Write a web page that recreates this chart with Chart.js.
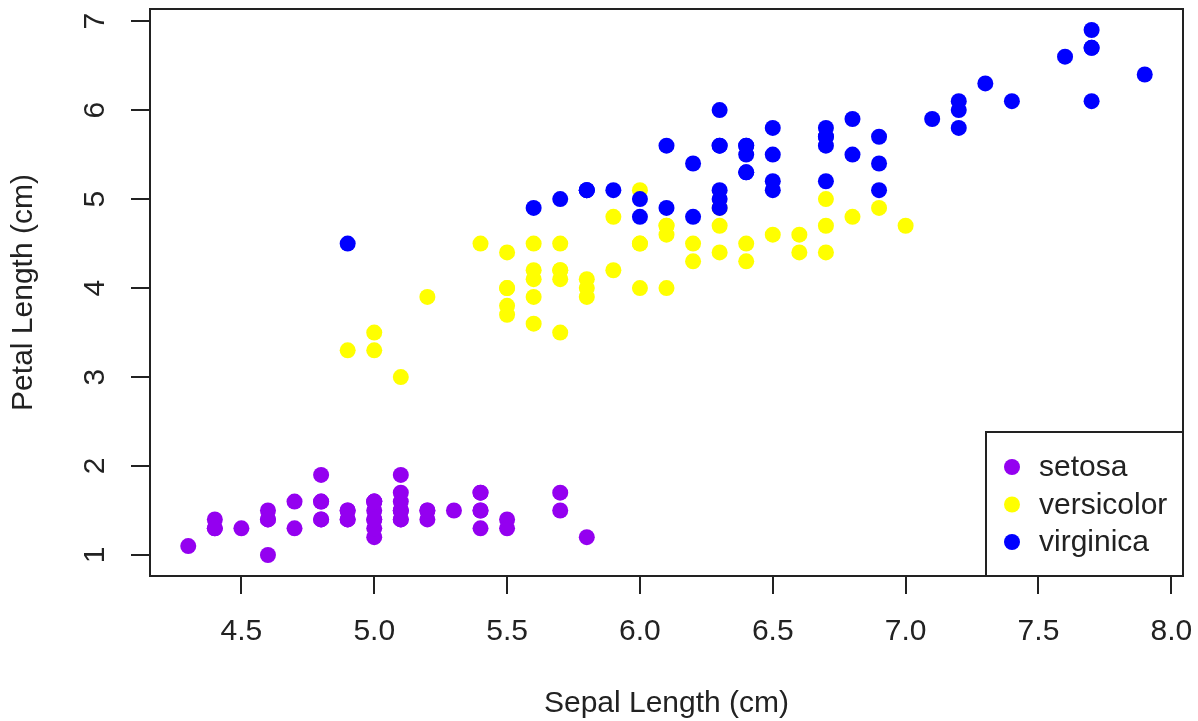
<!DOCTYPE html>
<html>
<head>
<meta charset="utf-8">
<script src="https://cdn.jsdelivr.net/npm/chart.js@4/dist/chart.umd.min.js"></script>
<style>
  html, body { margin: 0; padding: 0; background: #fff; }
  #wrap { width: 1198px; height: 721px; }
</style>
</head>
<body>
<div id="wrap"><canvas id="c" width="1198" height="721"></canvas></div>
<script>
// Iris measurements: sepal length vs petal length (cm), by species
const species = ['setosa', 'versicolor', 'virginica'];
const speciesColors = ['#9400F0', '#FFFF00', '#0000FF'];

const setosaSepal = [5.1,4.9,4.7,4.6,5.0,5.4,4.6,5.0,4.4,4.9,5.4,4.8,4.8,4.3,5.8,5.7,5.4,5.1,5.7,5.1,5.4,5.1,4.6,5.1,4.8,5.0,5.0,5.2,5.2,4.7,4.8,5.4,5.2,5.5,4.9,5.0,5.5,4.9,4.4,5.1,5.0,4.5,4.4,5.0,5.1,4.8,5.1,4.6,5.3,5.0];
const setosaPetal = [1.4,1.4,1.3,1.5,1.4,1.7,1.4,1.5,1.4,1.5,1.5,1.6,1.4,1.1,1.2,1.5,1.3,1.4,1.7,1.5,1.7,1.5,1.0,1.7,1.9,1.6,1.6,1.5,1.4,1.6,1.6,1.5,1.5,1.4,1.5,1.2,1.3,1.4,1.3,1.5,1.3,1.3,1.3,1.6,1.9,1.4,1.6,1.4,1.5,1.4];

const versicolorSepal = [7.0,6.4,6.9,5.5,6.5,5.7,6.3,4.9,6.6,5.2,5.0,5.9,6.0,6.1,5.6,6.7,5.6,5.8,6.2,5.6,5.9,6.1,6.3,6.1,6.4,6.6,6.8,6.7,6.0,5.7,5.5,5.5,5.8,6.0,5.4,6.0,6.7,6.3,5.6,5.5,5.5,6.1,5.8,5.0,5.6,5.7,5.7,6.2,5.1,5.7];
const versicolorPetal = [4.7,4.5,4.9,4.0,4.6,4.5,4.7,3.3,4.6,3.9,3.5,4.2,4.0,4.7,3.6,4.4,4.5,4.1,4.5,3.9,4.8,4.0,4.9,4.7,4.3,4.4,4.8,5.0,4.5,3.5,3.8,3.7,3.9,5.1,4.5,4.5,4.7,4.4,4.1,4.0,4.4,4.6,4.0,3.3,4.2,4.2,4.2,4.3,3.0,4.1];

const virginicaSepal = [6.3,5.8,7.1,6.3,6.5,7.6,4.9,7.3,6.7,7.2,6.5,6.4,6.8,5.7,5.8,6.4,6.5,7.7,7.7,6.0,6.9,5.6,7.7,6.3,6.7,7.2,6.2,6.1,6.4,7.2,7.4,7.9,6.4,6.3,6.1,7.7,6.3,6.4,6.0,6.9,6.7,6.9,5.8,6.8,6.7,6.7,6.3,6.5,6.2,5.9];
const virginicaPetal = [6.0,5.1,5.9,5.6,5.8,6.6,4.5,6.3,5.8,6.1,5.1,5.3,5.5,5.0,5.1,5.3,5.5,6.7,6.9,5.0,5.7,4.9,6.7,4.9,5.7,6.0,4.8,4.9,5.6,5.8,6.1,6.4,5.6,5.1,5.6,6.1,5.6,5.5,4.8,5.4,5.6,5.1,5.1,5.9,5.7,5.2,5.0,5.2,5.4,5.1];

const xTicks = [4.5, 5.0, 5.5, 6.0, 6.5, 7.0, 7.5, 8.0];
const yTicks = [1, 2, 3, 4, 5, 6, 7];
const xTitle = 'Sepal Length (cm)';
const yTitle = 'Petal Length (cm)';

// axis ranges padded 4% beyond the data, as in base R graphics
const xMin = 4.3, xMax = 7.9, yMin = 1.0, yMax = 6.9;
const xPad = (xMax - xMin) * 0.04, yPad = (yMax - yMin) * 0.04;

const toPoints = (xs, ys) => xs.map((x, i) => ({ x: x, y: ys[i] }));
const seriesX = [setosaSepal, versicolorSepal, virginicaSepal];
const seriesY = [setosaPetal, versicolorPetal, virginicaPetal];

const FONT = '"Liberation Sans", Arial, Helvetica, sans-serif';
const FONT_SIZE = 30;
const INK = '#222';

// fixed axis box sizes, without the extra room Chart.js keeps for overhanging labels
const fixAxis = (size) => (s) => {
  if (s.isHorizontal()) s.height = size; else s.width = size;
  s.paddingLeft = 0; s.paddingRight = 0; s.paddingTop = 0; s.paddingBottom = 0;
};

// frame around the plotting region plus the boxed legend in the lower-right corner
const framePlugin = {
  id: 'frameAndLegend',
  afterDatasetsDraw(chart) {
    const { ctx, chartArea: a } = chart;
    ctx.save();
    ctx.strokeStyle = INK;
    ctx.lineWidth = 2;
    ctx.strokeRect(a.left, a.top, a.right - a.left, a.bottom - a.top);

    // legend box
    const boxW = 197, boxH = 144;
    const bx = a.right - boxW, by = a.bottom - boxH;
    ctx.fillStyle = '#fff';
    ctx.fillRect(bx, by, boxW, boxH);
    ctx.strokeRect(bx, by, boxW, boxH);

    ctx.font = FONT_SIZE + 'px ' + FONT;
    ctx.textBaseline = 'middle';
    ctx.textAlign = 'left';
    chart.data.datasets.forEach((ds, i) => {
      const cy = by + 35 + i * 37.5;
      ctx.beginPath();
      ctx.fillStyle = ds.backgroundColor;
      ctx.arc(bx + 26, cy, 8, 0, Math.PI * 2);
      ctx.fill();
      ctx.fillStyle = INK;
      ctx.fillText(ds.label, bx + 53, cy + 1);
    });
    ctx.restore();
  }
};

new Chart(document.getElementById('c'), {
  type: 'scatter',
  data: {
    // later species are painted over earlier ones
    datasets: species.map((name, i) => ({
      label: name,
      data: toPoints(seriesX[i], seriesY[i]),
      backgroundColor: speciesColors[i],
      borderWidth: 0,
      pointRadius: 8,
      pointHoverRadius: 8,
      order: species.length - i
    }))
  },
  options: {
    responsive: false,
    animation: false,
    events: [],
    layout: { padding: { top: 9, right: 15, left: 0, bottom: 0 } },
    plugins: { legend: { display: false }, tooltip: { enabled: false } },
    scales: {
      x: {
        type: 'linear',
        min: xMin - xPad,
        max: xMax + xPad,
        afterBuildTicks: s => { s.ticks = xTicks.map(v => ({ value: v })); },
        afterFit: fixAxis(145),
        ticks: {
          callback: v => Number(v).toFixed(1),
          color: INK,
          padding: 23,
          maxRotation: 0,
          autoSkip: false,
          font: { family: FONT, size: FONT_SIZE, lineHeight: 1 }
        },
        grid: { drawOnChartArea: false, drawTicks: true, tickLength: 18, color: INK, lineWidth: 2 },
        border: { display: true, color: INK, width: 2 },
        title: {
          display: true, text: xTitle, color: INK,
          font: { family: FONT, size: FONT_SIZE, lineHeight: 1 },
          padding: { top: 0, bottom: 2 }
        }
      },
      y: {
        type: 'linear',
        min: yMin - yPad,
        max: yMax + yPad,
        afterBuildTicks: s => { s.ticks = yTicks.map(v => ({ value: v })); },
        afterFit: fixAxis(150),
        ticks: {
          callback: v => String(v),
          color: INK,
          padding: 27,
          minRotation: 90,
          maxRotation: 90,
          crossAlign: 'center',
          autoSkip: false,
          font: { family: FONT, size: FONT_SIZE, lineHeight: 1 }
        },
        grid: { drawOnChartArea: false, drawTicks: true, tickLength: 19, color: INK, lineWidth: 2 },
        border: { display: true, color: INK, width: 2 },
        title: {
          display: true, text: yTitle, color: INK,
          font: { family: FONT, size: FONT_SIZE, lineHeight: 1 },
          padding: { top: 9, bottom: 0 }
        }
      }
    }
  },
  plugins: [framePlugin]
});
</script>
</body>
</html>
